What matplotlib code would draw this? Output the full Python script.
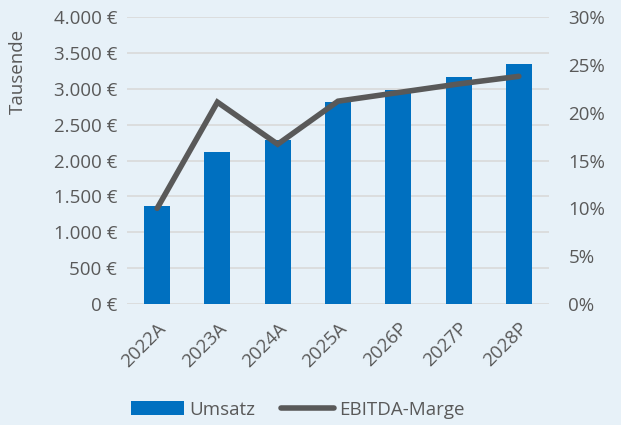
import numpy as np
import matplotlib.pyplot as plt
from matplotlib.ticker import FuncFormatter, MultipleLocator

years = ['2022A', '2023A', '2024A', '2025A', '2026P', '2027P', '2028P']
umsatz = [1360, 2120, 2280, 2810, 2980, 3160, 3350]  # Tausend EUR
ebitda_marge = [0.100, 0.211, 0.167, 0.212, 0.221, 0.230, 0.238]

bg = '#E7F1F8'
txt = '#595959'
plt.rcParams['font.family'] = ['Open Sans', 'DejaVu Sans']
plt.rcParams['font.size'] = 13.5

fig = plt.figure(figsize=(6.21, 4.25), dpi=100, facecolor=bg)
ax = fig.add_axes([0.2045, 0.2847, 0.6795, 0.6753], facecolor=bg)
ax2 = ax.twinx()

x = np.arange(len(years))
bars = ax.bar(x, umsatz, width=0.43, color='#0070C0', label='Umsatz', zorder=2)
line, = ax2.plot(x, ebitda_marge, color='#595959', lw=4, solid_capstyle='round',
                 solid_joinstyle='miter', label='EBITDA-Marge', zorder=3)

ax.set_xlim(-0.5, len(years) - 0.5)
ax.set_ylim(0, 4000)
ax.yaxis.set_major_locator(MultipleLocator(500))
ax.yaxis.set_major_formatter(FuncFormatter(lambda v, p: f'{int(v):,} €'.replace(',', '.')))
ax2.set_ylim(0, 0.30)
ax2.yaxis.set_major_locator(MultipleLocator(0.05))
ax2.yaxis.set_major_formatter(FuncFormatter(lambda v, p: f'{round(v*100)}%'))

ax.grid(axis='y', color='#D9D9D9', lw=1.2, zorder=0)
ax.set_axisbelow(True)
for a in (ax, ax2):
    for s in a.spines.values():
        s.set_visible(False)
    a.tick_params(length=0, colors=txt)
ax.tick_params(axis='y', pad=7)
ax2.tick_params(axis='y', pad=14)

ax.set_xticks(x)
ax.set_xticklabels(years, rotation=45, ha='right', rotation_mode='anchor')
ax.tick_params(axis='x', pad=11)
ax.set_ylabel('Tausende', color=txt)
ax.yaxis.set_label_coords(-0.237, 0.81)

fig.legend([bars, line], ['Umsatz', 'EBITDA-Marge'], loc='lower center',
           bbox_to_anchor=(0.48, -0.025), ncol=2, frameon=False, handlelength=2.8,
           handleheight=0.75, columnspacing=1.4, handletextpad=0.3, labelcolor=txt)

fig.savefig('out.png', dpi=100, facecolor=bg)
